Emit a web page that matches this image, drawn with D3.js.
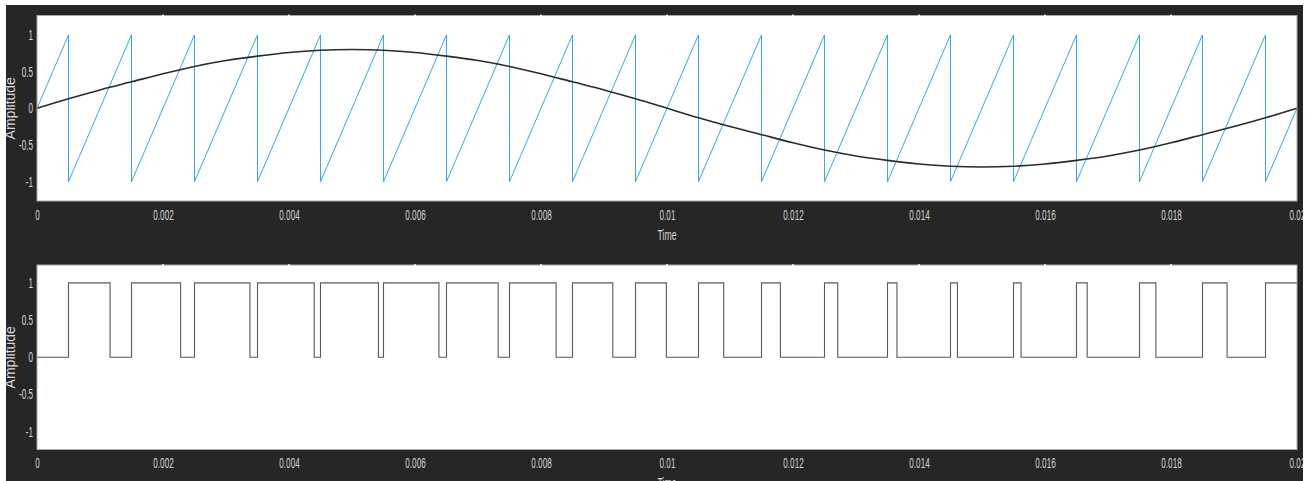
<!DOCTYPE html>
<html>
<head>
<meta charset="utf-8">
<script src="https://cdn.jsdelivr.net/npm/d3@7"></script>
<style>
  body { margin: 0; background: #ffffff; }
  svg { display: block; }
  text { font-family: "Liberation Sans", Arial, sans-serif; }
</style>
</head>
<body>
<div id="chart"></div>
<script>
// x axis ticks (seconds)
var xTickValues = [0, 0.002, 0.004, 0.006, 0.008, 0.01, 0.012, 0.014, 0.016, 0.018, 0.02];
var xTickLabels = ["0", "0.002", "0.004", "0.006", "0.008", "0.01", "0.012", "0.014", "0.016", "0.018", "0.02"];
var yTickValues = [-1, -0.5, 0, 0.5, 1];
var yTickLabels = ["-1", "-0.5", "0", "0.5", "1"];

// carrier: sawtooth, vertices
var sawTimes = [0,
  0.0005, 0.0005, 0.0015, 0.0015, 0.0025, 0.0025, 0.0035, 0.0035, 0.0045, 0.0045,
  0.0055, 0.0055, 0.0065, 0.0065, 0.0075, 0.0075, 0.0085, 0.0085, 0.0095, 0.0095,
  0.0105, 0.0105, 0.0115, 0.0115, 0.0125, 0.0125, 0.0135, 0.0135, 0.0145, 0.0145,
  0.0155, 0.0155, 0.0165, 0.0165, 0.0175, 0.0175, 0.0185, 0.0185, 0.0195, 0.0195,
  0.02];
var sawValues = [0,
  1, -1, 1, -1, 1, -1, 1, -1, 1, -1,
  1, -1, 1, -1, 1, -1, 1, -1, 1, -1,
  1, -1, 1, -1, 1, -1, 1, -1, 1, -1,
  1, -1, 1, -1, 1, -1, 1, -1, 1, -1,
  0];

// reference: sine, sampled every 0.5 ms
var sineTimes = [0, 0.0005, 0.001, 0.0015, 0.002, 0.0025, 0.003, 0.0035, 0.004, 0.0045,
  0.005, 0.0055, 0.006, 0.0065, 0.007, 0.0075, 0.008, 0.0085, 0.009, 0.0095,
  0.01, 0.0105, 0.011, 0.0115, 0.012, 0.0125, 0.013, 0.0135, 0.014, 0.0145,
  0.015, 0.0155, 0.016, 0.0165, 0.017, 0.0175, 0.018, 0.0185, 0.019, 0.0195, 0.02];
var sineValues = [0, 0.13, 0.25, 0.36, 0.47, 0.57, 0.65, 0.71, 0.76, 0.79,
  0.80, 0.79, 0.76, 0.71, 0.65, 0.57, 0.47, 0.36, 0.25, 0.13,
  0, -0.13, -0.25, -0.36, -0.47, -0.57, -0.65, -0.71, -0.76, -0.79,
  -0.80, -0.79, -0.76, -0.71, -0.65, -0.57, -0.47, -0.36, -0.25, -0.13, 0];

// PWM output: switching instants
var pwmTimes = [0,
  0.0005, 0.00116, 0.0015, 0.00228, 0.0025, 0.00338, 0.0035, 0.0044, 0.0045, 0.00542,
  0.0055, 0.00638, 0.0065, 0.00732, 0.0075, 0.00824, 0.0085, 0.00914, 0.0095, 0.00999,
  0.0105, 0.0109, 0.0115, 0.0118, 0.0125, 0.01271, 0.0135, 0.01365, 0.0145, 0.01461,
  0.0155, 0.01562, 0.0165, 0.01667, 0.0175, 0.01776, 0.0185, 0.01889,
  0.0195, 0.02];
var pwmValues = [0,
  1, 0, 1, 0, 1, 0, 1, 0, 1, 0,
  1, 0, 1, 0, 1, 0, 1, 0, 1, 0,
  1, 0, 1, 0, 1, 0, 1, 0, 1, 0,
  1, 0, 1, 0, 1, 0, 1, 0,
  1, 1];

var W = 1310, H = 481;
var labelColor = "#d6d6d6";
var squeeze = 0.58;   // tick labels in the picture are very narrow

var svg = d3.select("#chart").append("svg")
    .attr("width", W)
    .attr("height", H);

svg.append("rect").attr("width", W).attr("height", H).attr("fill", "#262626");

var x = d3.scaleLinear().domain([0, 0.02]).range([37, 1297]);

function drawPanel(top, bottom, yDomain) {
    var y = d3.scaleLinear().domain(yDomain).range([bottom, top]);
    var g = svg.append("g");

    g.append("rect")
        .attr("x", x(0)).attr("y", top)
        .attr("width", x(0.02) - x(0)).attr("height", bottom - top)
        .attr("fill", "#ffffff");

    var xa = g.append("g")
        .attr("transform", "translate(0," + bottom + ")")
        .call(d3.axisBottom(x).tickValues(xTickValues)
            .tickFormat(function(d, i) { return xTickLabels[i]; })
            .tickSize(0).tickPadding(19));
    xa.select(".domain").remove();
    xa.selectAll("text")
        .attr("fill", labelColor)
        .attr("font-size", 14)
        .attr("dy", 0)
        .attr("transform", "scale(" + squeeze + ",1)");

    var ya = g.append("g")
        .attr("transform", "translate(" + x(0) + ",0)")
        .call(d3.axisLeft(y).tickValues(yTickValues)
            .tickFormat(function(d, i) { return yTickLabels[i]; })
            .tickSize(0).tickPadding(7));
    ya.select(".domain").remove();
    ya.selectAll("text")
        .attr("fill", labelColor)
        .attr("font-size", 14)
        .attr("transform", "scale(" + squeeze + ",1)");

    g.append("text")
        .attr("x", x(0.01))
        .attr("y", bottom + 39)
        .attr("text-anchor", "middle")
        .attr("font-size", 14)
        .attr("fill", labelColor)
        .attr("transform", "translate(" + x(0.01) * (1 - 0.62) + ",0) scale(0.62,1)")
        .text("Time");

    g.append("text")
        .attr("transform", "translate(15," + (top + bottom) / 2 + ") rotate(-90)")
        .attr("text-anchor", "middle")
        .attr("font-size", 14)
        .attr("fill", labelColor)
        .text("Amplitude");

    return { g: g, y: y, top: top, bottom: bottom };
}

function drawFrame(p) {
    p.g.append("rect")
        .attr("x", x(0)).attr("y", p.top)
        .attr("width", x(0.02) - x(0)).attr("height", p.bottom - p.top)
        .attr("fill", "none")
        .attr("stroke", "#a8a8a8")
        .attr("stroke-width", 1);
    p.g.selectAll("line.notch")
        .data(xTickValues.slice(1, -1))
        .enter().append("line")
        .attr("class", "notch")
        .attr("x1", function(d) { return x(d); })
        .attr("x2", function(d) { return x(d); })
        .attr("y1", p.top - 1)
        .attr("y2", p.top + 2)
        .attr("stroke", "#ffffff")
        .attr("stroke-width", 1.5);
}

// top panel: carrier and reference
var p1 = drawPanel(15.5, 201, [-1.264, 1.264]);

var saw = sawTimes.map(function(t, i) { return [t, sawValues[i]]; });
var sine = sineTimes.map(function(t, i) { return [t, sineValues[i]]; });

var line1 = d3.line()
    .x(function(d) { return x(d[0]); })
    .y(function(d) { return p1.y(d[1]); });

p1.g.append("path")
    .datum(saw)
    .attr("d", line1)
    .attr("fill", "none")
    .attr("stroke", "#35a6f5")
    .attr("stroke-width", 1);

p1.g.append("path")
    .datum(sine)
    .attr("d", line1.curve(d3.curveMonotoneX))
    .attr("fill", "none")
    .attr("stroke", "#2b2b2b")
    .attr("stroke-width", 1.6);

drawFrame(p1);

// bottom panel: PWM
var p2 = drawPanel(265, 449.5, [-1.24, 1.24]);

var pwm = pwmTimes.map(function(t, i) { return [t, pwmValues[i]]; });

p2.g.append("path")
    .datum(pwm)
    .attr("d", d3.line()
        .x(function(d) { return x(d[0]); })
        .y(function(d) { return p2.y(d[1]); })
        .curve(d3.curveStepAfter))
    .attr("fill", "none")
    .attr("stroke", "#5a5a5a")
    .attr("stroke-width", 1.1);

drawFrame(p2);

// white margins of the screenshot
svg.append("rect").attr("x", 0).attr("y", 0).attr("width", W).attr("height", 5).attr("fill", "#ffffff");
svg.append("rect").attr("x", 0).attr("y", 0).attr("width", 6).attr("height", H).attr("fill", "#ffffff");
svg.append("rect").attr("x", 1303).attr("y", 0).attr("width", W - 1303).attr("height", H).attr("fill", "#ffffff");
</script>
</body>
</html>
